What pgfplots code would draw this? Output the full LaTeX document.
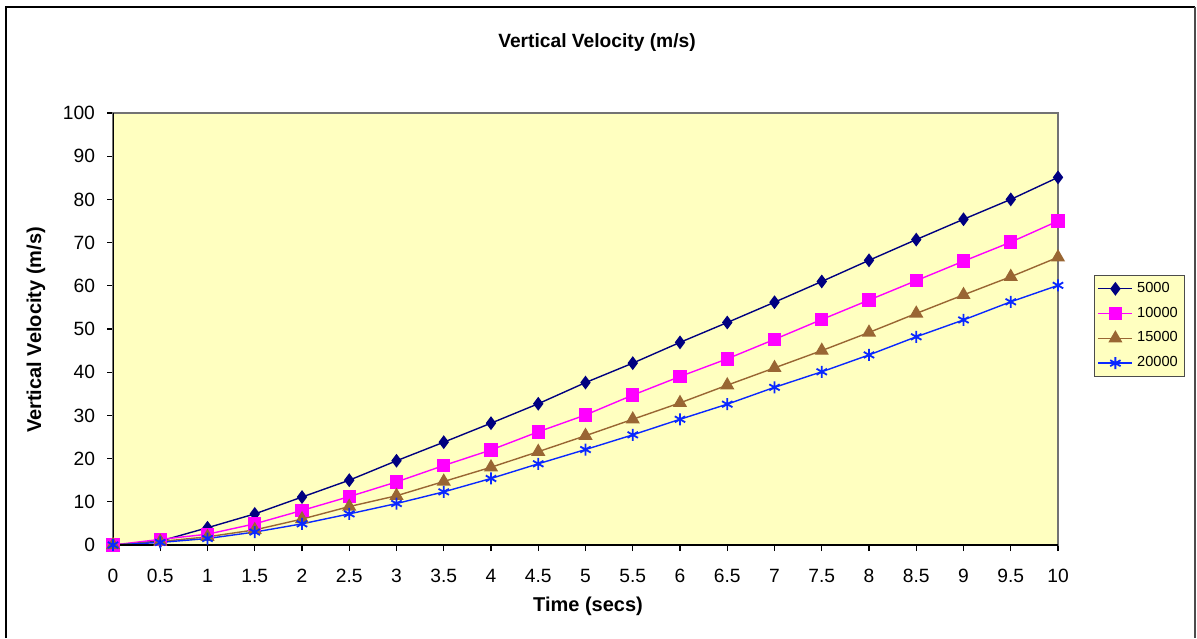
\documentclass[border=0pt]{standalone}
\usepackage{fontspec}
\setmainfont{Liberation Sans}
\usepackage{pgfplots}
\pgfplotsset{compat=1.18}
\usepackage{pgfplotstable}
\definecolor{plotbg}{HTML}{FFFFC0}
\definecolor{sone}{HTML}{000080}
\definecolor{stwo}{HTML}{FF00FF}
\definecolor{sthree}{HTML}{996633}
\definecolor{sfour}{HTML}{0A28FF}
\pgfplotstableread{
t v5000 v10000 v15000 v20000
0   0    0    0    0
0.5 0.9  1.3  0.8  0.6
1   4.0  2.5  1.9  1.5
1.5 7.2  4.9  3.5  3.0
2   11.1 8.0  6.0  4.9
2.5 15.0 11.2 8.9  7.2
3   19.5 14.6 11.4 9.6
3.5 23.8 18.4 14.7 12.3
4   28.2 22.0 18.0 15.4
4.5 32.7 26.2 21.6 18.8
5   37.6 30.1 25.3 22.1
5.5 42.1 34.7 29.1 25.5
6   46.9 39.0 32.9 29.1
6.5 51.5 43.1 37.0 32.6
7   56.2 47.6 41.0 36.5
7.5 61.0 52.2 45.0 40.1
8   65.9 56.7 49.2 44.0
8.5 70.7 61.2 53.6 48.2
9   75.4 65.7 57.9 52.1
9.5 80.0 70.1 62.1 56.3
10  85.1 75.0 66.6 60.1
}\datatable
\begin{document}
\begin{tikzpicture}
\path[use as bounding box] (0,0) rectangle (598.5pt,319pt);
\draw[black, line width=0.6pt] (3pt,0) -- (3pt,315.5pt) -- (597.5pt,315.5pt);
\draw[black!70, line width=1.2pt] (597.5pt,315.5pt) -- (597.5pt,0);
\begin{axis}[
  at={(56.5pt,46.5pt)}, anchor=south west,
  scale only axis, width=472.5pt, height=216pt,
  xmin=0, xmax=10, ymin=0, ymax=100,
  xtick distance=0.5, ytick distance=10,
  xtick pos=bottom, ytick pos=left,
  tick align=outside, major tick length=3pt,
  tick style={black, line width=0.6pt},
  axis line style={black!55, line width=0.6pt},
  axis background/.style={fill=plotbg},
  /pgf/number format/assume math mode=true,
  ticklabel style={font=\fontsize{9.6}{11}\selectfont},
  xticklabel style={yshift=-5.5pt},
  yticklabel style={xshift=-2.5pt},
  legend style={at={(1.0381,0.507)}, anchor=west, draw=black!70, fill=plotbg,
    font=\fontsize{7.3}{8}\selectfont, inner sep=1.5pt, row sep=1.8pt, line width=0.6pt},
  legend cell align=left,
  every axis plot/.append style={line width=0.7pt},
]
\addplot[sone, mark=diamond*, mark size=2.9pt, mark options={fill=sone, solid}] table[x=t, y=v5000] {\datatable};
\addlegendentry{5000}
\addplot[stwo, mark=square*, mark size=3pt, mark options={fill=stwo, solid}] table[x=t, y=v10000] {\datatable};
\addlegendentry{10000}
\addplot[sthree, mark=triangle*, mark size=3.4pt, mark options={fill=sthree, solid}] table[x=t, y=v15000] {\datatable};
\addlegendentry{15000}
\addplot[sfour, mark=asterisk, mark size=3pt, mark options={solid, line width=0.9pt}] table[x=t, y=v20000] {\datatable};
\addlegendentry{20000}
\draw[black, line width=1.2pt] (rel axis cs:0,1) -- (rel axis cs:0,0) -- (rel axis cs:1,0);
\end{axis}
\node[font=\bfseries\fontsize{9.6}{11}\selectfont] at (298.5pt,297.5pt) {Vertical Velocity (m/s)};
\node[font=\bfseries\fontsize{10}{12}\selectfont] at (294pt,16pt) {Time (secs)};
\node[font=\bfseries\fontsize{10}{12}\selectfont, rotate=90] at (18pt,154pt) {Vertical Velocity (m/s)};
\end{tikzpicture}
\end{document}
